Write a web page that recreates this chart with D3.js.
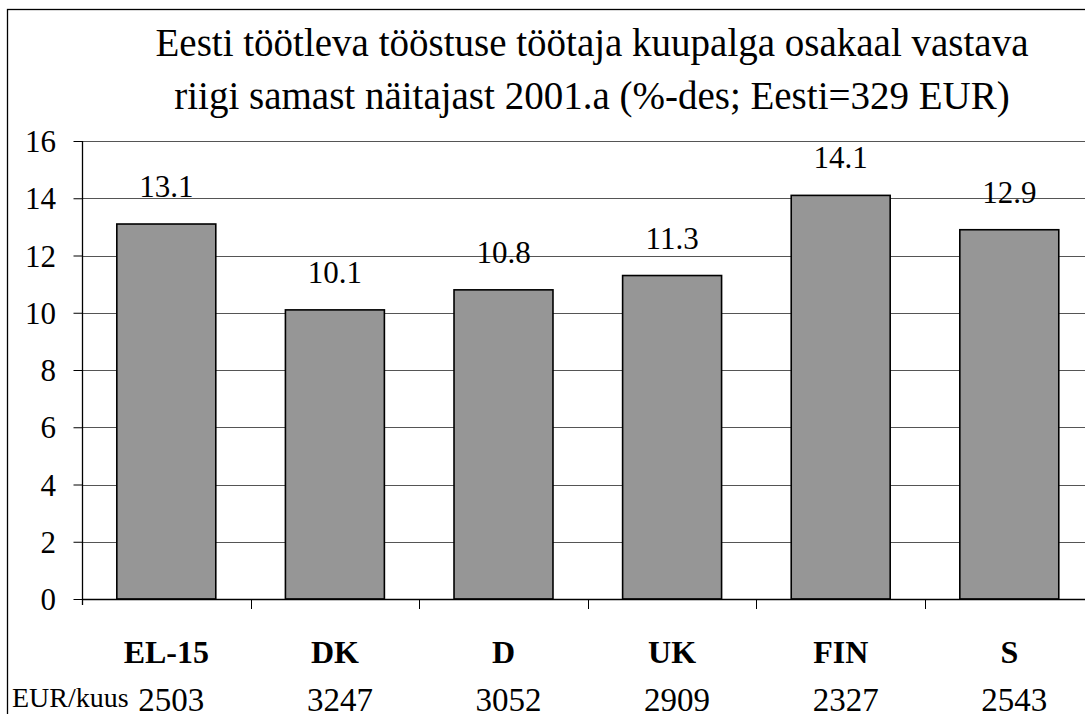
<!DOCTYPE html>
<html>
<head>
<meta charset="utf-8">
<script src="https://cdn.jsdelivr.net/npm/d3@7"></script>
</head>
<body style="margin:0; background:#fff">
<div id="chart"></div>
<script>
// data
let countries = ["EL-15", "DK", "D", "UK", "FIN", "S"];
let shares = [13.1, 10.1, 10.8, 11.3, 14.1, 12.9];
let monthlyPay = ["2503", "3247", "3052", "2909", "2327", "2543"];
let yTicks = [0, 2, 4, 6, 8, 10, 12, 14, 16];
let titleLines = [
    "Eesti töötleva tööstuse töötaja kuupalga osakaal vastava",
    "riigi samast näitajast 2001.a (%-des; Eesti=329 EUR)"
];

let svgWidth = 1085;
let svgHeight = 714;
let margin = { top: 141, left: 82, bottom: 115 };
let plotBottom = svgHeight - margin.bottom;   // y of 0
let step = 168.6;

let svg = d3.select("#chart")
    .append("svg")
    .attr("width", svgWidth)
    .attr("height", svgHeight);

//helper so every label gets the same serif font
function addText(x, y, str, size, anchor, bold) {
    return svg.append("text")
        .attr("x", x)
        .attr("y", y)
        .attr("text-anchor", anchor)
        .style("font-family", "'Liberation Serif', 'Times New Roman', serif")
        .style("font-size", size + "px")
        .style("font-weight", bold ? "bold" : "normal")
        .attr("fill", "#000")
        .text(str);
}

// outer chart frame
svg.append("rect")
    .attr("x", 7.5)
    .attr("y", 9.5)
    .attr("width", 1200)
    .attr("height", 800)
    .attr("fill", "none")
    .attr("stroke", "#000")
    .attr("stroke-width", 1.3);

//scales
let x = d3.scaleBand()
    .domain(countries)
    .range([margin.left, margin.left + step * countries.length])
    .paddingInner(0.413)
    .paddingOuter(0.2065);

let y = d3.scaleLinear()
    .domain([0, 16])
    .range([plotBottom, margin.top]);

//gridlines
svg.append("g")
    .selectAll("line")
    .data(yTicks.filter(function(d) { return d > 0; }))
    .enter()
    .append("line")
    .attr("x1", margin.left)
    .attr("x2", svgWidth)
    .attr("y1", function(d) { return Math.round(y(d)) + 0.5; })
    .attr("y2", function(d) { return Math.round(y(d)) + 0.5; })
    .attr("stroke", "#555")
    .attr("stroke-width", 1);

//bars
svg.selectAll("rect.bar")
    .data(shares)
    .enter()
    .append("rect")
    .attr("class", "bar")
    .attr("x", function(d, i) { return x(countries[i]); })
    .attr("y", function(d) { return y(d); })
    .attr("width", x.bandwidth())
    .attr("height", function(d) { return y(0) - y(d); })
    .attr("fill", "#969696")
    .attr("stroke", "#000")
    .attr("stroke-width", 1.6);

//y axis ticks
let yAxis = d3.axisLeft(y)
    .tickValues(yTicks)
    .tickSize(9)
    .tickFormat("");

let yG = svg.append("g")
    .attr("transform", "translate(" + (margin.left + 0.5) + ",0)")
    .call(yAxis);
yG.select(".domain").remove();
yG.selectAll(".tick line").attr("stroke", "#000");
yG.append("line")
    .attr("x1", 0).attr("x2", 0)
    .attr("y1", y(16)).attr("y2", y(0) + 6)
    .attr("stroke", "#000")
    .attr("stroke-width", 1.3);

yTicks.forEach(function(t) {
    addText(56, y(t) + 11, String(t), 31, "end", false);
});

//x axis baseline and category ticks
svg.append("line")
    .attr("x1", margin.left)
    .attr("x2", svgWidth)
    .attr("y1", Math.round(y(0)) + 0.5)
    .attr("y2", Math.round(y(0)) + 0.5)
    .attr("stroke", "#000")
    .attr("stroke-width", 1.3);

svg.append("g")
    .selectAll("line")
    .data(countries.slice(1))
    .enter()
    .append("line")
    .attr("x1", function(d) { return Math.round(x(d) - x.step() * 0.2065) + 0.5; })
    .attr("x2", function(d) { return Math.round(x(d) - x.step() * 0.2065) + 0.5; })
    .attr("y1", y(0))
    .attr("y2", y(0) + 10)
    .attr("stroke", "#000");

//value labels, category names and monthly pay
countries.forEach(function(c, i) {
    let cx = x(c) + x.bandwidth() / 2;
    addText(cx, y(shares[i]) - 27, shares[i].toFixed(1), 31, "middle", false);
    addText(cx, 663, c, 32, "middle", true);
    addText(cx + 5, 711, monthlyPay[i], 33, "middle", false);
});

addText(12, 707, "EUR/kuus", 28, "start", false);

//title
titleLines.forEach(function(line, i) {
    addText(592, 56 + i * 53, line, 39, "middle", false);
});
</script>
</body>
</html>
